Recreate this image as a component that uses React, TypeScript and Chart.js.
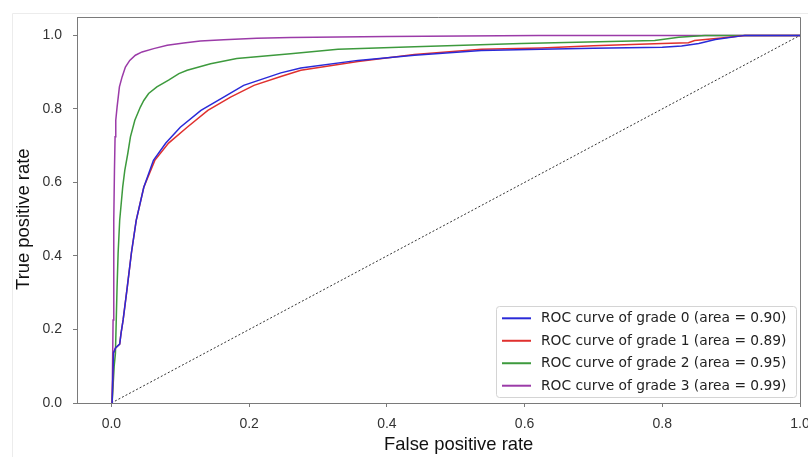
import React, { useEffect, useRef } from "react";
import { Chart, registerables } from "chart.js";

Chart.register(...registerables);

const X_TICKS = [0, 0.2, 0.4, 0.6, 0.8, 1.0];
const Y_TICKS = [0, 0.2, 0.4, 0.6, 0.8, 1.0];
const X_TITLE = "False positive rate";
const Y_TITLE = "True positive rate";

const SERIES_LABELS = [
  "ROC curve of grade 0 (area = 0.90)",
  "ROC curve of grade 1 (area = 0.89)",
  "ROC curve of grade 2 (area = 0.95)",
  "ROC curve of grade 3 (area = 0.99)",
];
const SERIES_COLORS = ["#2a2ad8", "#e0302e", "#3d9a3d", "#9b3ba8"];

const G0_FPR = [0, 0.001, 0.003, 0.006, 0.012, 0.014, 0.017, 0.023, 0.029, 0.036, 0.047, 0.061, 0.079, 0.1, 0.13, 0.163, 0.192, 0.246, 0.275, 0.358, 0.44, 0.537, 0.624, 0.7, 0.8, 0.828, 0.853, 0.877, 0.92, 1.0];
const G0_TPR = [0, 0.0, 0.136, 0.15, 0.16, 0.19, 0.226, 0.315, 0.408, 0.497, 0.587, 0.66, 0.707, 0.75, 0.796, 0.832, 0.864, 0.898, 0.911, 0.932, 0.946, 0.959, 0.962, 0.965, 0.968, 0.971, 0.978, 0.989, 1.0, 1.0];

const G1_FPR = [0, 0.001, 0.003, 0.006, 0.012, 0.014, 0.017, 0.023, 0.029, 0.036, 0.047, 0.063, 0.083, 0.11, 0.14, 0.173, 0.207, 0.246, 0.275, 0.358, 0.44, 0.537, 0.624, 0.7, 0.8, 0.838, 0.847, 0.886, 0.92, 1.0];
const G1_TPR = [0, 0.0, 0.136, 0.15, 0.16, 0.19, 0.226, 0.315, 0.408, 0.497, 0.587, 0.66, 0.707, 0.75, 0.796, 0.832, 0.864, 0.888, 0.905, 0.929, 0.948, 0.962, 0.966, 0.972, 0.978, 0.98, 0.986, 0.993, 1.0, 1.0];

const G2_FPR = [0, 0.001, 0.004, 0.0058, 0.0082, 0.0097, 0.012, 0.0164, 0.0194, 0.0237, 0.0276, 0.034, 0.042, 0.047, 0.054, 0.066, 0.083, 0.098, 0.11, 0.144, 0.182, 0.26, 0.329, 0.44, 0.595, 0.789, 0.824, 0.862, 1.0];
const G2_TPR = [0, 0.0, 0.1, 0.135, 0.316, 0.407, 0.497, 0.588, 0.633, 0.678, 0.724, 0.769, 0.805, 0.823, 0.842, 0.86, 0.878, 0.896, 0.905, 0.923, 0.937, 0.95, 0.962, 0.969, 0.978, 0.986, 0.995, 1.0, 1.0];

const G3_FPR = [0, 0.001, 0.0024, 0.0034, 0.0044, 0.0053, 0.0063, 0.0082, 0.0116, 0.0155, 0.0203, 0.0266, 0.0348, 0.0445, 0.0614, 0.081, 0.105, 0.129, 0.163, 0.211, 0.26, 0.4, 0.62, 1.0];
const G3_TPR = [0, 0.0, 0.226, 0.497, 0.633, 0.724, 0.769, 0.805, 0.86, 0.887, 0.914, 0.932, 0.946, 0.955, 0.964, 0.973, 0.979, 0.985, 0.988, 0.992, 0.994, 0.997, 1.0, 1.0];

const CHANCE_FPR = [0, 1];
const CHANCE_TPR = [0, 1];

const FONT = "'Liberation Sans', Arial, sans-serif";
const LEGEND_FONT = "'DejaVu Sans', sans-serif";
const AXIS_COLOR = "#7a7a7a";

function toPoints(xs: number[], ys: number[]) {
  return xs.map((x, i) => ({ x, y: ys[i] }));
}

const framePlugin = {
  id: "frame",
  beforeDraw(chart: any) {
    const { ctx, width, height } = chart;
    ctx.save();
    ctx.fillStyle = "#ffffff";
    ctx.fillRect(0, 0, width, height);
    ctx.strokeStyle = "#ececec";
    ctx.lineWidth = 1;
    ctx.beginPath();
    ctx.moveTo(12.5, height);
    ctx.lineTo(12.5, 13.5);
    ctx.lineTo(width, 13.5);
    ctx.stroke();
    ctx.restore();
  },
  afterDraw(chart: any) {
    const { ctx, chartArea, scales } = chart;
    const { left, right, top, bottom } = chartArea;
    ctx.save();
    ctx.strokeStyle = AXIS_COLOR;
    ctx.lineWidth = 1;
    ctx.beginPath();
    ctx.moveTo(left, top + 0.5);
    ctx.lineTo(right + 0.5, top + 0.5);
    ctx.lineTo(right + 0.5, bottom);
    ctx.stroke();

    // axis titles (centred on the 0.5 data position, as in the source figure)
    ctx.fillStyle = "#111";
    ctx.font = `18.4px ${FONT}`;
    ctx.textAlign = "center";
    ctx.textBaseline = "alphabetic";
    ctx.fillText(X_TITLE, scales.x.getPixelForValue(0.5) + 3, 450);
    ctx.save();
    ctx.translate(29, scales.y.getPixelForValue(0.5));
    ctx.rotate(-Math.PI / 2);
    ctx.fillText(Y_TITLE, 0, 0);
    ctx.restore();

    // legend inside the plot, lower right
    const bx = 496.5, by = 306.5, bw = 300, bh = 91;
    ctx.beginPath();
    if ((ctx as any).roundRect) (ctx as any).roundRect(bx, by, bw, bh, 3);
    else ctx.rect(bx, by, bw, bh);
    ctx.fillStyle = "rgba(255,255,255,0.85)";
    ctx.fill();
    ctx.strokeStyle = "#d4d4d4";
    ctx.stroke();
    ctx.font = `13.8px ${LEGEND_FONT}`;
    ctx.textBaseline = "middle";
    ctx.textAlign = "left";
    const ds = chart.data.datasets.slice(0, SERIES_LABELS.length);
    ds.forEach((d: any, i: number) => {
      const y = 318.3 + i * 22.47;
      ctx.strokeStyle = d.borderColor;
      ctx.lineWidth = 2;
      ctx.beginPath();
      ctx.moveTo(502, y);
      ctx.lineTo(531, y);
      ctx.stroke();
      ctx.fillStyle = "#222";
      ctx.fillText(d.label, 541, y + 0.5);
    });
    ctx.restore();
  },
};

export default function App() {
  const ref = useRef<HTMLCanvasElement | null>(null);
  useEffect(() => {
    document.body.style.margin = "0";
    const canvas = ref.current!;
    const fprs = [G0_FPR, G1_FPR, G2_FPR, G3_FPR];
    const tprs = [G0_TPR, G1_TPR, G2_TPR, G3_TPR];
    const datasets: any[] = SERIES_LABELS.map((label, i) => ({
      label,
      data: toPoints(fprs[i], tprs[i]),
      borderColor: SERIES_COLORS[i],
      backgroundColor: SERIES_COLORS[i],
      borderWidth: 1.5,
      pointRadius: 0,
      showLine: true,
      fill: false,
      tension: 0,
    }));
    datasets.push({
      label: "chance",
      data: toPoints(CHANCE_FPR, CHANCE_TPR),
      borderColor: "#333333",
      borderWidth: 1,
      borderDash: [2, 2],
      pointRadius: 0,
      showLine: true,
      fill: false,
    });
    const chart = new Chart(canvas, {
      type: "scatter",
      data: { datasets },
      plugins: [framePlugin],
      options: {
        animation: false,
        responsive: false,
        devicePixelRatio: 1,
        layout: { padding: { left: 0, right: 8, top: 17, bottom: 0 } },
        plugins: { legend: { display: false }, tooltip: { enabled: false } },
        scales: {
          x: {
            type: "linear",
            min: -0.05,
            max: 1.0,
            afterBuildTicks: (s: any) => {
              s.ticks = X_TICKS.map((v) => ({ value: v }));
            },
            afterFit: (s: any) => {
              s.height = 54;
              s.paddingRight = 0;
              s.paddingLeft = 0;
            },
            grid: { display: true, drawOnChartArea: false, drawTicks: true, tickLength: 4, color: AXIS_COLOR, tickColor: AXIS_COLOR },
            border: { display: true, color: AXIS_COLOR, width: 1 },
            ticks: {
              padding: 9,
              autoSkip: false,
              maxRotation: 0,
              color: "#333",
              font: { family: FONT, size: 14 },
              callback: (v: any) => Number(v).toFixed(1),
            },
            title: { display: false },
          },
          y: {
            type: "linear",
            min: 0,
            max: 1.05,
            afterBuildTicks: (s: any) => {
              s.ticks = Y_TICKS.map((v) => ({ value: v }));
            },
            afterFit: (s: any) => {
              s.width = 77;
              s.paddingTop = 0;
              s.paddingBottom = 0;
            },
            grid: { display: true, drawOnChartArea: false, drawTicks: true, tickLength: 4, color: AXIS_COLOR, tickColor: AXIS_COLOR },
            border: { display: true, color: AXIS_COLOR, width: 1 },
            ticks: {
              padding: 11,
              color: "#333",
              font: { family: FONT, size: 14 },
              callback: (v: any) => Number(v).toFixed(1),
            },
            title: { display: false },
          },
        },
      } as any,
    });
    return () => chart.destroy();
  }, []);
  return (
    <div style={{ width: 808, height: 457, position: "relative" }}>
      <canvas ref={ref} width={808} height={457} style={{ display: "block" }} />
    </div>
  );
}
